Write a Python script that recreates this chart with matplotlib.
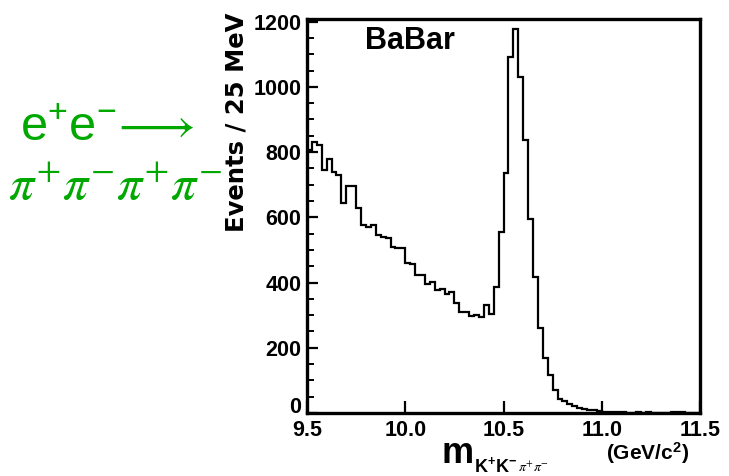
import numpy as np
import matplotlib
matplotlib.use("Agg")
import matplotlib.pyplot as plt
import matplotlib.transforms as mtrans
from matplotlib.ticker import MultipleLocator

plt.rcParams['font.family'] = ['Liberation Sans', 'DejaVu Sans']
plt.rcParams['mathtext.fontset'] = 'custom'
plt.rcParams['mathtext.rm'] = 'Liberation Sans'
plt.rcParams['mathtext.it'] = 'Liberation Sans:italic'
plt.rcParams['mathtext.bf'] = 'Liberation Sans:bold'

# 25 MeV bins from 9.5 to 11.5 GeV/c^2
edges = np.linspace(9.5, 11.5, 81)
counts = [807, 832, 822, 745, 779, 740, 730, 643, 697, 697,
          628, 575, 570, 577, 546, 541, 536, 510, 507, 505,
          461, 457, 423, 423, 395, 403, 377, 380, 364, 371,
          338, 309, 311, 298, 301, 294, 330, 305, 387, 556,
          735, 1090, 1177, 1029, 837, 594, 418, 260, 168, 117,
          71, 43, 38, 28, 20, 15, 12, 9, 8, 6,
          4, 3, 3, 2, 2, 1, 1, 2, 1, 2,
          1, 0, 0, 1, 2, 2, 2, 1, 0, 0]
xticks = [9.5, 10.0, 10.5, 11.0, 11.5]
xticklabels = ["9.5", "10.0", "10.5", "11.0", "11.5"]
yticks = [0, 200, 400, 600, 800, 1000, 1200]

W, H = 729, 476
fig = plt.figure(figsize=(W / 100, H / 100), dpi=100)
ax = fig.add_axes([307 / W, 1 - 413 / H, (700 - 307) / W, (413 - 19) / H])

ax.stairs(counts, edges, color='black', linewidth=1.6)

ax.set_xlim(9.5, 11.5)
ax.set_ylim(0, 1208)
ax.set_xticks(xticks)
ax.set_xticklabels(xticklabels)
ax.set_yticks(yticks)
ax.yaxis.set_minor_locator(MultipleLocator(50))
ax.tick_params(axis='both', which='both', direction='in', top=False, right=False)
ax.tick_params(axis='both', which='major', labelsize=15.5, width=1.6)
ax.tick_params(axis='x', which='major', length=9, pad=5)
ax.tick_params(axis='y', which='major', length=8, pad=4)
ax.tick_params(axis='y', which='minor', length=5, width=1.4)
for lab in ax.get_xticklabels() + ax.get_yticklabels():
    lab.set_fontweight('bold')
# the "0" sits a bit higher, like in the original
zero = ax.get_yticklabels()[0]
zero.set_transform(zero.get_transform() + mtrans.ScaledTranslation(0, 6 / 72, fig.dpi_scale_trans))
for sp in ax.spines.values():
    sp.set_linewidth(2.4)

# labels
fig.text(236 / W, 1 - 122 / H, "Events / 25 MeV", rotation=90, ha='center',
         va='center', fontsize=17.5, fontweight='bold', family='DejaVu Sans')
fig.text(410 / W, 1 - 41 / H, "BaBar", ha='center', va='center',
         fontsize=22, fontweight='bold')
fig.text(442 / W, 1 - 463 / H, "m", ha='left', va='baseline',
         fontsize=26, fontweight='bold')
fig.text(474 / W, 1 - 472 / H, r"$\mathbf{K^{+}K^{-}}$",
         ha='left', va='baseline', fontsize=13)
fig.text(518 / W, 1 - 472 / H, r"$\pi^{+}\pi^{-}$", math_fontfamily='stix',
         ha='left', va='baseline', fontsize=10)
fig.text(648 / W, 1 - 453 / H, r"(GeV/c$\mathbf{^{2}}$)", ha='center',
         va='center', fontsize=15, fontweight='bold')

green = '#00a800'
fig.text(107 / W, 1 - 141 / H, r"$\mathregular{e^{+}e^{-}\!\longrightarrow}$",
         ha='center', va='baseline', fontsize=35, color=green)
fig.text(115 / W, 1 - 200 / H, r"$\pi^{+}\pi^{-}\pi^{+}\pi^{-}$", math_fontfamily='stix',
         ha='center', va='baseline', fontsize=36, color=green)

fig.savefig("out.png", dpi=100)
